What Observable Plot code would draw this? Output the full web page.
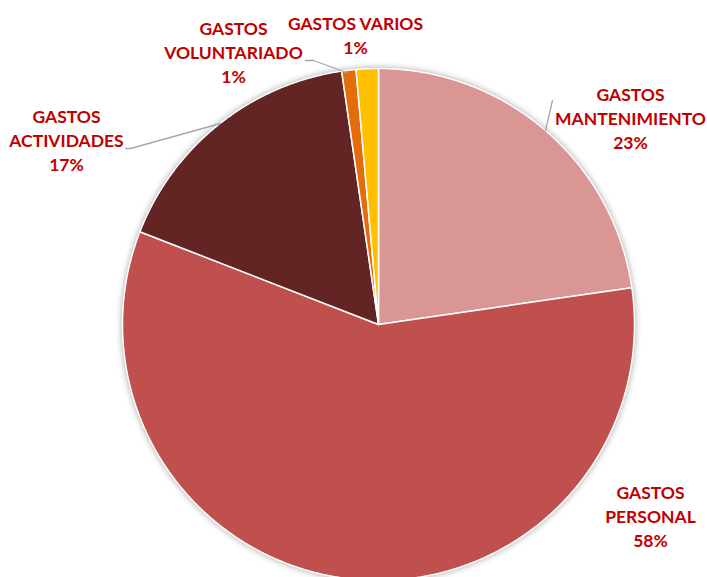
<!DOCTYPE html>
<html>
<head>
<meta charset="utf-8">
<script src="https://cdn.jsdelivr.net/npm/d3@7"></script>
<script src="https://cdn.jsdelivr.net/npm/@observablehq/plot@0.6"></script>
<style>
  html, body { margin: 0; padding: 0; background: #fff; }
  #chart { width: 707px; height: 577px; overflow: hidden; }
  g[aria-label="line"].slices { filter: drop-shadow(0px 0px 3px rgba(0,0,0,0.35)); }
</style>
</head>
<body>
<div id="chart"></div>
<script>
// ---- data ----
const categories = ["GASTOS MANTENIMIENTO", "GASTOS PERSONAL", "GASTOS ACTIVIDADES", "GASTOS VOLUNTARIADO", "GASTOS VARIOS"];
const values = [22.7, 58.2, 16.8, 0.9, 1.4];
const pctLabels = ["23%", "58%", "17%", "1%", "1%"];
const labelLines = [["GASTOS", "MANTENIMIENTO"], ["GASTOS", "PERSONAL"], ["GASTOS", "ACTIVIDADES"], ["GASTOS", "VOLUNTARIADO"], ["GASTOS VARIOS"]];
const colors = ["#D99694", "#C0504D", "#632523", "#E46C0A", "#FFC000"];

// ---- layout (pixels) ----
const W = 707, H = 577, CX = 378, CY = 324, R = 256;
const labelPx = [[630, 117], [650, 515], [66, 139], [233, 51], [355, 34]];
const leaderPx = [
  [[545, 130], [552, 100]],
  null,
  [[125, 148], [130, 148], [220, 123]],
  [[305, 60], [313, 60], [346, 72]],
  null
];
const toX = px => (px - CX) / R;
const toY = py => (CY - py) / R;

// ---- slice polygons ----
const arcs = d3.pie().sort(null).value(d => d)(values);
const slicePts = [];
arcs.forEach((a, i) => {
  slicePts.push({cat: categories[i], x: 0, y: 0});
  const n = Math.max(2, Math.ceil((a.endAngle - a.startAngle) / 0.005));
  for (let k = 0; k <= n; k++) {
    const t = a.startAngle + (a.endAngle - a.startAngle) * k / n;
    slicePts.push({cat: categories[i], x: Math.sin(t), y: Math.cos(t)});
  }
  slicePts.push({cat: categories[i], x: 0, y: 0});
});

const labels = categories.map((c, i) => ({
  cat: c,
  text: labelLines[i].concat([pctLabels[i]]).join("\n"),
  x: toX(labelPx[i][0]),
  y: toY(labelPx[i][1])
}));

const leaderPts = [];
leaderPx.forEach((pts, i) => {
  if (!pts) return;
  pts.forEach(p => leaderPts.push({cat: categories[i], x: toX(p[0]), y: toY(p[1])}));
});

const chart = Plot.plot({
  width: W,
  height: H,
  margin: 0,
  x: {domain: [toX(0), toX(W)], axis: null},
  y: {domain: [toY(H), toY(0)], axis: null},
  color: {domain: categories, range: colors},
  style: {background: "#fff"},
  marks: [
    Plot.line(slicePts, {x: "x", y: "y", z: "cat", fill: "cat", stroke: "#fff", strokeWidth: 1.5, curve: "linear"}),
    Plot.line(leaderPts, {x: "x", y: "y", z: "cat", stroke: "#A6A6A6", strokeWidth: 1.3}),
    Plot.text(labels, {
      x: "x", y: "y", text: "text",
      fill: "#C00000",
      fontFamily: "Lato, 'Open Sans', sans-serif",
      fontWeight: "bold",
      fontSize: 17.5,
      lineHeight: 1.37,
      textAnchor: "middle"
    })
  ]
});
const g = chart.querySelector('g[aria-label="line"]');
if (g) g.classList.add("slices");
document.getElementById("chart").appendChild(chart);
</script>
</body>
</html>
